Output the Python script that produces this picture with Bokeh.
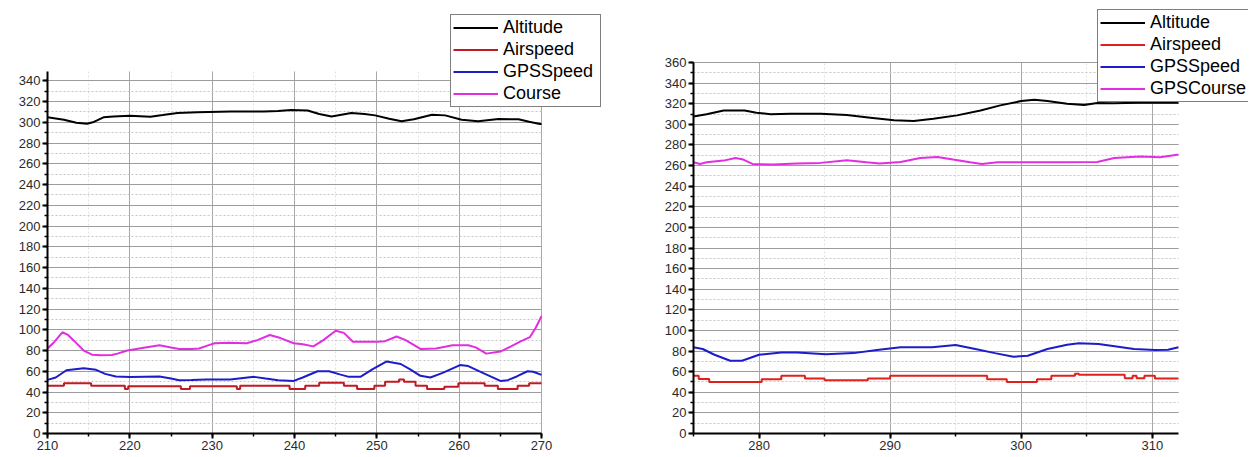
from bokeh.plotting import figure
from bokeh.models import Range1d, SingleIntervalTicker
from bokeh.layouts import row
from bokeh.embed import file_html
from bokeh.resources import INLINE

# ---------------- Left chart data ----------------
alt1_x = [210, 212, 213.5, 214.8, 215.5, 216.8, 218, 220, 222.5, 224, 225.8, 228.2, 232.3, 236.3, 238,
          239.6, 241.6, 243, 244.5, 246.9, 248.5, 249.8, 251.5, 253, 254.5, 256.7, 258.3, 260.3, 262.3,
          264.8, 267.2, 268.5, 269.8, 270]
alt1_y = [304.8, 302.5, 299.5, 298.7, 300, 304.8, 305.5, 306.3, 305.4, 307, 309, 309.8, 310.5, 310.5, 311,
          312, 311.4, 308, 305.7, 309, 308, 306.7, 303.5, 301, 303, 307.3, 306.7, 302.5, 301,
          303.2, 302.9, 300.5, 298.4, 298.4]

air1_x = [210, 212, 215.3, 219.4, 219.8, 226.2, 227.3, 233.0, 233.4, 239.4, 241.3, 243.0, 246.0, 247.6,
          249.7, 251.0, 252.7, 253.3, 254.7, 256.1, 258.2, 259.9, 263.1, 264.7, 267.1, 268.5, 270]
air1_y = [46, 48.5, 46, 43, 45.5, 43, 45.5, 43, 46, 43, 46, 49, 46, 43,
          46, 50, 52, 50, 46, 43, 45, 48.5, 46, 43, 46, 48.5, 48.5]

gps1_x = [210, 211, 212.3, 214.4, 215.9, 217, 218.3, 220, 223.6, 225, 226, 227.5, 229.3, 232.2, 235.1,
          236.5, 238, 239.9, 241, 242.8, 244.2, 245.5, 246.6, 248, 249.5, 251.2, 252.9, 254, 255.3,
          256.5, 258, 260.1, 261.1, 263, 265, 265.9, 267, 268.3, 269, 270]
gps1_y = [51.7, 54, 61, 63, 61.4, 57.5, 55, 54.5, 55, 53, 51.4, 51.5, 52, 52, 54.6,
          53, 51.4, 50.7, 54, 60, 60, 57, 54.6, 54.6, 62, 69.5, 67, 62, 55.6,
          54, 58.5, 66, 65, 58, 50.7, 51.4, 55, 60, 59.5, 56.5]

crs1_x = [210, 210.8, 211.8, 212.5, 213.2, 214.4, 215.4, 216.5, 217.8, 218.5, 219.7, 221.5, 223.6, 225,
          226, 227.5, 228.4, 229.5, 230.3, 232, 234.2, 235.5, 237, 238.3, 239.9, 241, 242.3, 243.5,
          245, 246, 247.1, 248.5, 250, 251, 252.4, 253.5, 255.3, 257.2, 259.2, 261.1, 262, 263.3,
          265, 266.3, 267.4, 268.6, 269.3, 270]
crs1_y = [82, 88, 97.6, 95, 89.5, 80, 76, 75.5, 75.6, 77, 80, 82.5, 85, 83,
          81.5, 81.5, 82, 85, 87, 87.5, 87, 90, 95, 92, 87, 86, 84, 90,
          99, 97, 88.5, 88.5, 88.5, 89, 93.5, 90, 81.5, 82, 85, 85, 83, 77,
          79, 84, 88.5, 93, 102, 113]

# ---------------- Right chart data ----------------
alt2_x = [275, 276, 277.3, 278.9, 279.8, 280.9, 282.4, 284.7, 286.7, 288.5, 290.3, 291.8, 293.3, 295.1,
          296.9, 298.4, 300, 301, 302, 303.5, 304.8, 305.8, 307, 309, 310.5, 312]
alt2_y = [307.7, 309.7, 313.5, 313.5, 311.3, 309.7, 310.3, 310.3, 309, 306.5, 303.9, 303.2, 305.5, 308.7,
          313.5, 318.4, 322.6, 323.9, 322.6, 320, 318.7, 320.6, 320.5, 321, 321, 321]

air2_x = [275, 275.4, 276.2, 280.2, 281.7, 283.5, 285, 288.3, 290, 297.4, 298.9, 301.2, 302.3, 304.1,
          304.4, 307.9, 308.5, 308.8, 309.4, 310.2, 312]
air2_y = [56, 53, 50, 52.7, 56, 53.3, 51.7, 53.3, 56, 52.7, 50, 52.7, 56, 58,
          57, 53.5, 56, 53.5, 56, 53.3, 53.3]

gps2_x = [275, 275.7, 276.6, 277.8, 278.7, 280, 281.7, 282.9, 285.1, 287.2, 289, 290.8, 293.2, 295,
          296.5, 298, 299.4, 300.5, 302, 303.5, 304.4, 305.9, 307.4, 308.6, 310.2, 311.2, 312]
gps2_y = [83.6, 82, 76.4, 70.6, 70.6, 76.4, 78.7, 78.7, 77, 78, 81, 83.6, 83.6, 85.9,
          82, 78, 74.5, 75.4, 82, 86.2, 87.5, 86.8, 84.2, 82, 81, 81.3, 83.6]

crs2_x = [275, 275.5, 276, 277.3, 278.2, 278.8, 279.5, 281.1, 282.9, 284.7, 286.7, 288.2, 289.2, 290.8,
          292.3, 293.6, 294.8, 296.1, 297, 298.2, 300.7, 303.3, 305.8, 307.1, 309.1, 310.6, 311.9, 312]
crs2_y = [263.2, 261.6, 263.2, 264.8, 267.4, 265.8, 261.6, 261, 262, 262.6, 265.2, 263.2, 262, 263.5,
          267.4, 268.4, 265.8, 263.2, 261.6, 263.2, 263.2, 263.2, 263.5, 267.4, 268.7, 268, 270.5, 270.5]

names_left = ["Altitude", "Airspeed", "GPSSpeed", "Course"]
names_right = ["Altitude", "Airspeed", "GPSSpeed", "GPSCourse"]

x_lim_left = (210, 270)
y_lim_left = (0, 349)
x_lim_right = (275, 312)
y_lim_right = (0, 360)

FONT = "Liberation Sans"
C_ALT = "#000000"
C_GPS = "#1c1cc8"
C_CRS = "#e22ee0"


def make_fig(width, height, bl, br, bt, bb, data_w, data_h, xl, yl):
    """data_w/data_h: pixel size of the data area; the frame is larger so the legend can sit outside it."""
    frame_w = width - bl - br
    frame_h = height - bt - bb
    x_end = xl[0] + (xl[1] - xl[0]) * frame_w / data_w
    y_end = yl[0] + (yl[1] - yl[0]) * frame_h / data_h
    p = figure(width=width, height=height, output_backend="svg", toolbar_location=None,
               x_range=Range1d(xl[0], x_end), y_range=Range1d(yl[0], y_end),
               min_border_left=bl, min_border_right=br, min_border_top=bt, min_border_bottom=bb)
    p.outline_line_color = None
    p.background_fill_color = "white"
    p.border_fill_color = "white"
    p.xaxis.ticker = SingleIntervalTicker(interval=10, num_minor_ticks=2)
    p.yaxis.ticker = SingleIntervalTicker(interval=20, num_minor_ticks=2)
    p.xaxis.bounds = xl
    p.yaxis.bounds = yl
    for ax in (p.xaxis[0], p.yaxis[0]):
        ax.axis_line_color = "black"
        ax.axis_line_width = 2
        ax.major_tick_line_color = "black"
        ax.major_tick_line_width = 2
        ax.minor_tick_line_color = "black"
        ax.minor_tick_line_width = 1.5
        ax.major_tick_out = 5
        ax.major_tick_in = 0
        ax.minor_tick_out = 3
        ax.minor_tick_in = 0
        ax.major_label_text_font = FONT
        ax.major_label_text_font_size = "13px"
        ax.major_label_text_color = "#2a2a2a"
        ax.major_label_standoff = 2
    p.xaxis.major_label_standoff = 2
    p.xgrid.bounds = xl
    p.xgrid.cross_bounds = yl
    p.ygrid.bounds = yl
    p.ygrid.cross_bounds = xl
    p.xgrid.grid_line_color = "#a8a8a8"
    p.xgrid.grid_line_width = 1
    p.ygrid.grid_line_color = "#9c9c9c"
    p.ygrid.grid_line_width = 1
    p.xgrid.minor_grid_line_color = "#e2e2e2"
    p.xgrid.minor_grid_line_dash = "2 2"
    p.ygrid.minor_grid_line_color = "#c6c6c6"
    p.ygrid.minor_grid_line_dash = "2 2"
    return p


def style_legend(p, loc, label_width):
    lg = p.legend[0]
    lg.location = loc
    lg.border_line_color = "black"
    lg.border_line_width = 1
    lg.background_fill_color = "white"
    lg.background_fill_alpha = 1
    lg.label_text_font = FONT
    lg.label_text_font_size = "18px"
    lg.label_text_color = "black"
    lg.glyph_width = 45
    lg.glyph_height = 19
    lg.label_height = 19
    lg.label_width = label_width
    lg.label_standoff = 5
    lg.spacing = 1
    lg.padding = 2
    lg.margin = 0


# Left chart: data area 47..541 px wide, 71..433 px tall; frame extends to top/right for the legend
p1 = make_fig(628, 455, 47, 10, 4, 22, 494, 362, x_lim_left, y_lim_left)
p1.line(alt1_x, alt1_y, color=C_ALT, line_width=2, legend_label=names_left[0])
p1.step(air1_x, air1_y, mode="after", color="#c01a22", line_width=2, legend_label=names_left[1])
p1.line(gps1_x, gps1_y, color=C_GPS, line_width=2, legend_label=names_left[2])
p1.line(crs1_x, crs1_y, color=C_CRS, line_width=2, legend_label=names_left[3])
style_legend(p1, (403, 326), 95)

# Right chart: data area 693..1178 px, 62..433 px
p2 = make_fig(620, 455, 65, 0, 4, 22, 485, 371, x_lim_right, y_lim_right)
p2.line(alt2_x, alt2_y, color=C_ALT, line_width=2, legend_label=names_right[0])
p2.step(air2_x, air2_y, mode="after", color="#e0201c", line_width=2, legend_label=names_right[1])
p2.line(gps2_x, gps2_y, color=C_GPS, line_width=2, legend_label=names_right[2])
p2.line(crs2_x, crs2_y, color=C_CRS, line_width=2, legend_label=names_right[3])
style_legend(p2, (404, 331), 99)

layout = row(p1, p2)
open("out.html", "w").write(file_html(layout, INLINE))
